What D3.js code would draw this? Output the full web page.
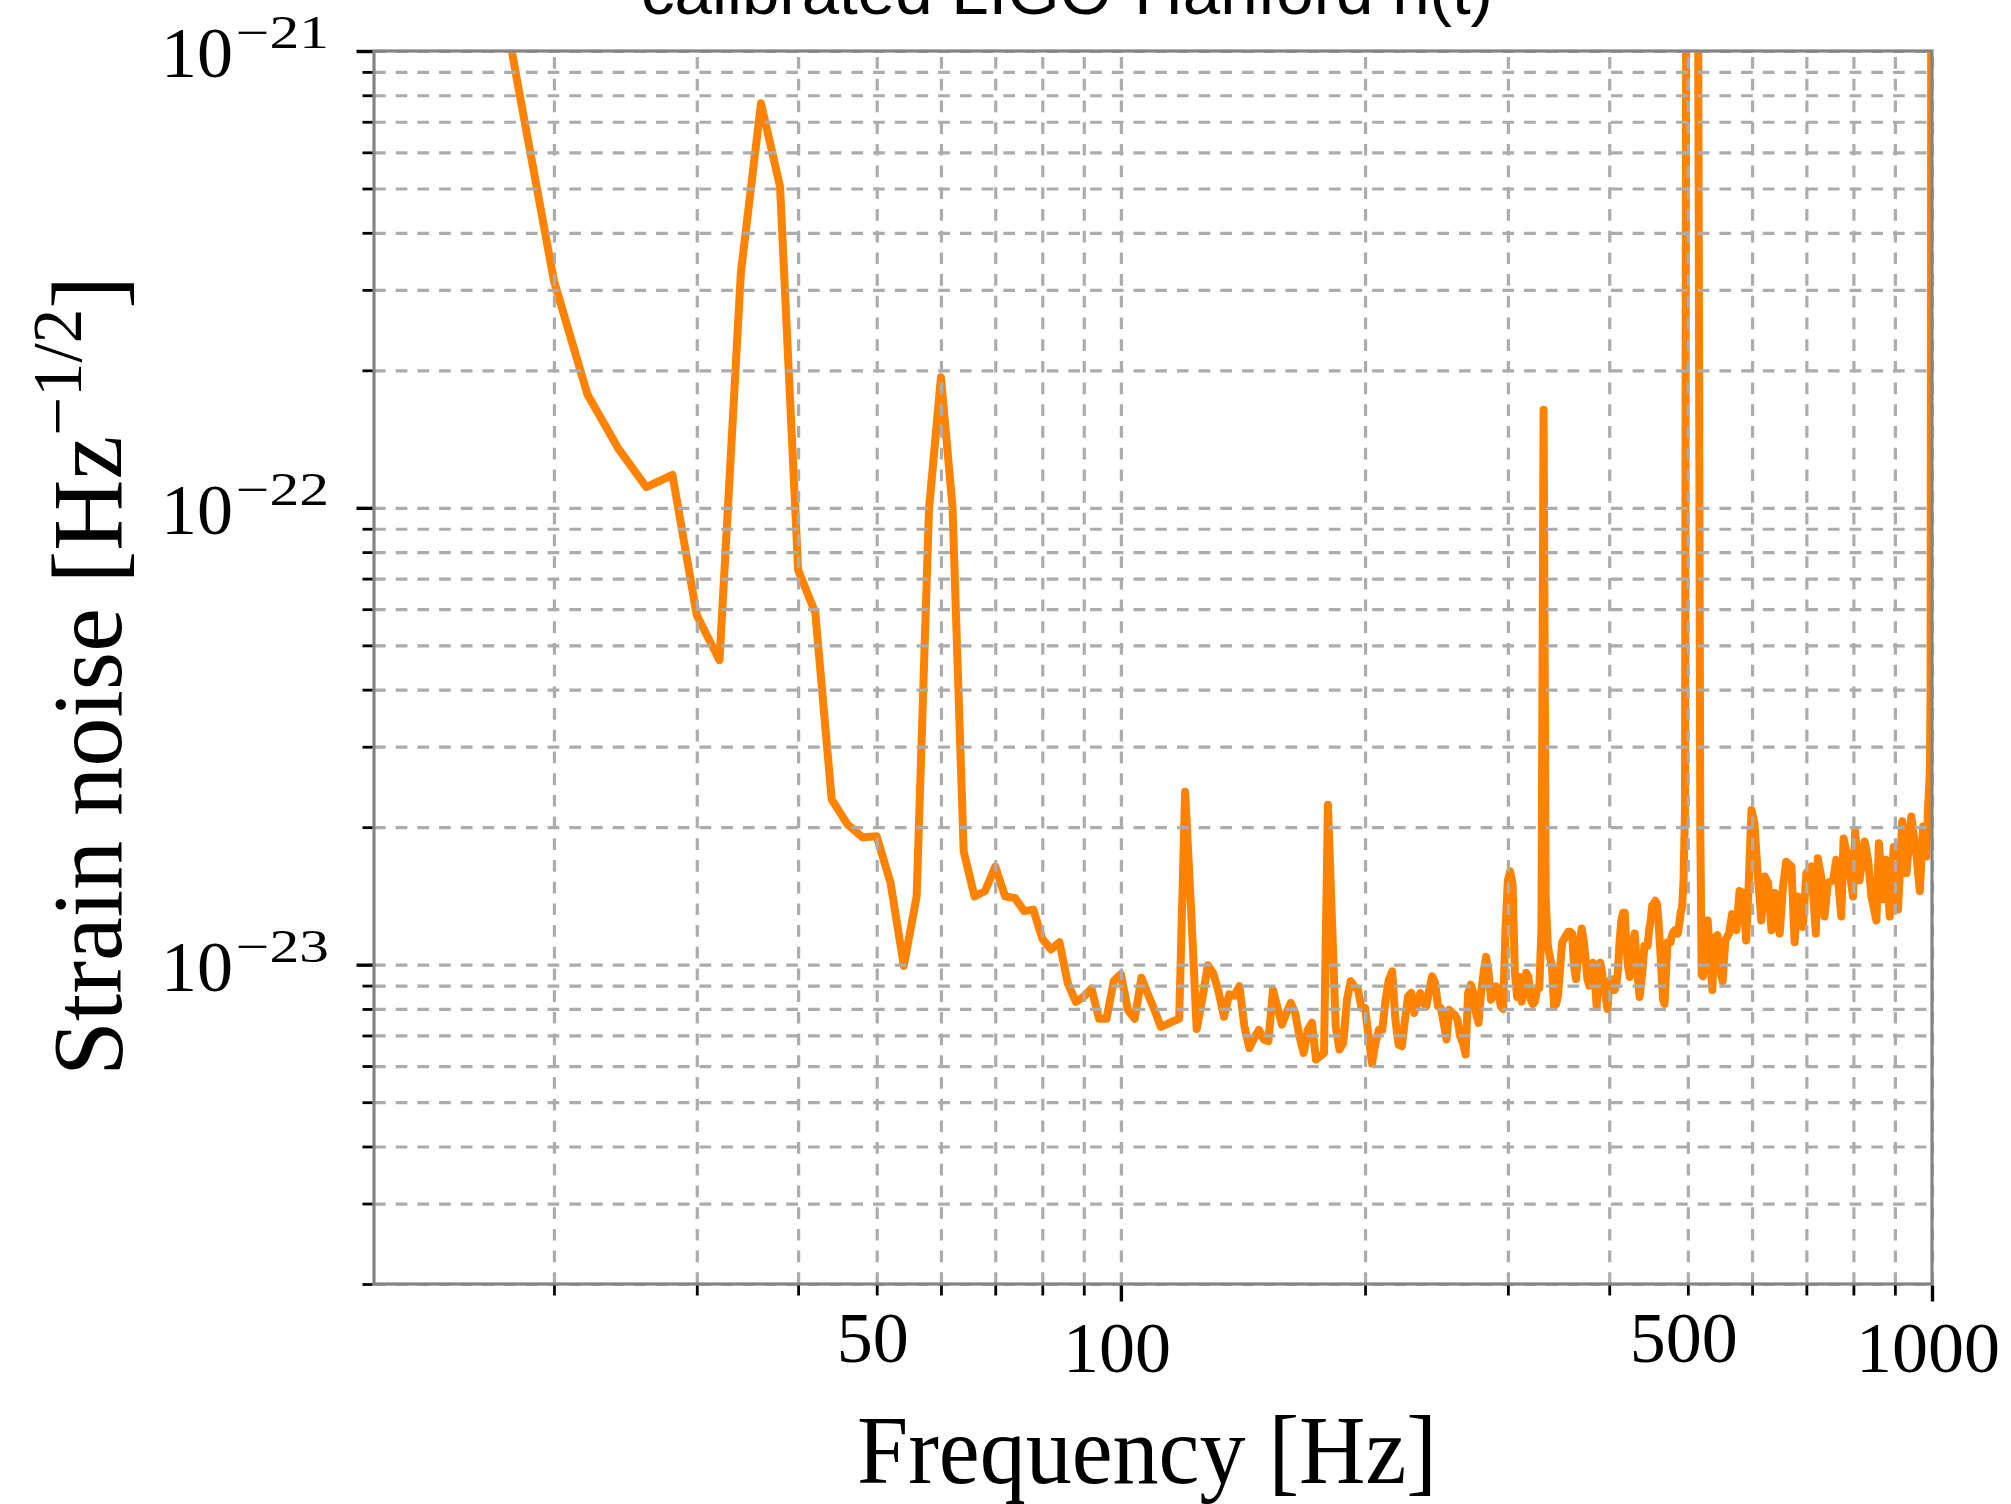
<!DOCTYPE html>
<html><head><meta charset="utf-8">
<script src="https://cdn.jsdelivr.net/npm/d3@7"></script>
<style>html,body{margin:0;padding:0;background:#fff;} svg{display:block;}</style>
</head><body>
<svg id="chart" width="2011" height="1504"></svg>
<script>
// ---- data ----
// frequency in Hz
const freqHz = [12,14,16,18,20,22,24,26,28,30,32,34,36,38,40,42,44,46,48,50,52,54,56,58,60,62,64,66,68,70,72,74,76,78,80,82,84,86,88,90,92,94,96,98,100,102,104,106,108,110,112,114,116,118,120,122,124,126,128,130,132,134,136,138,140,142,144,146,148,150,152,154,156,158,160,162,164,166,168,170,172,174,176,178,180,182,184,186,188,190,192,194,196,198,200,202,204,206,208,210,212,214,216,218,220,222,224,226,228,230,232,234,236,238,240,242,244,246,248,250,252,254,256,258,260,262,264,266,268,270,272,274,276,278,280,282,284,286,288,290,292,294,296,298,300,302,304,306,308,310,312,314,316,318,320,322,324,326,328,330,332,334,336,338,340,342,344,346,348,350,352,354,356,358,360,362,364,366,368,370,372,374,376,378,380,382,384,386,388,390,392,394,396,398,400,402,404,406,408,410,412,414,416,418,420,422,424,426,428,430,432,434,436,438,440,442,444,446,448,450,452,454,456,458,460,462,464,466,468,470,472,474,476,478,480,482,484,486,488,490,492,494,496,498,500,502,504,506,508,510,512,514,516,518,520,522,526,529,533,536,539,544,550,552,556,562,567,574,579,585,590,594,599,604,610,616,622,628,634,640,649,655,661,671,677,683,693,700,710,719,723,730,737,744,755,762,773,778,788,799,804,814,826,834,842,854,860,870,878,887,897,908,919,930,943,957,966,975,984,989,994,996,998,1000];
// strain noise amplitude in units of 1e-24 Hz^-1/2
const strainE24 = [20000,8000,2800,868,314,177,135,111,118,58.2,46.4,327,768,505,73.1,58.9,23.0,20.3,19.0,19.1,15.1,9.94,14.1,99.4,193,100.5,17.7,14.1,14.5,16.4,14.1,14.0,13.1,13.2,11.4,10.8,11.2,9.11,8.29,8.51,8.87,7.61,7.61,9.21,9.53,7.96,7.61,9.36,8.61,7.96,7.31,7.41,7.52,7.61,23.9,13.4,7.23,8.42,9.97,9.57,8.71,7.69,8.61,8.55,8.97,7.33,6.57,6.91,7.2,6.86,6.8,8.81,8.04,7.39,7.84,8.25,7.84,6.97,6.41,7.2,7.46,6.2,6.3,6.41,22.4,12.75,7.33,6.52,6.74,8.38,9.2,8.97,8.81,8.04,8.04,6.97,6.08,6.74,7.2,7.2,8.38,9.27,9.67,7.58,6.68,6.63,7.58,8.53,8.67,7.84,8.25,8.67,8.25,8.11,8.81,9.43,9.12,8.11,8.04,7.46,6.86,7.97,7.84,7.77,7.58,6.97,6.74,6.36,8.67,9.04,8.67,7.84,7.46,8.67,9.59,10.4,9.59,8.38,8.67,8.97,8.67,8.11,8.0,12,15.3,16.0,15.0,9.6,8.5,9.4,8.3,8.9,9.6,9.4,8.4,8.2,8.3,8.9,8.9,12,164,14,11.0,10.4,9.9,8.1,8.2,8.6,9.9,11.2,11.4,11.6,11.8,11.8,11.7,9.9,9.3,10.3,11.3,12.0,11.3,10.3,9.3,9.0,9.7,10.1,9.3,8.1,9.6,10.1,9.6,8.8,8.5,8.0,9.1,9.3,9.2,8.8,9.0,9.7,11.3,12.5,13.0,13.0,11.0,9.9,9.4,10.4,11.2,11.7,10.4,9.3,8.5,9.1,9.9,11.0,11.0,11.0,11.9,12.5,13.5,13.6,13.8,13.6,12.5,11.0,9.6,8.4,8.2,9.6,11.2,11.2,11.2,11.6,11.8,11.9,11.8,11.7,12.3,13.0,13.4,15.3,22,3000,8000,9000,9000,9000,9000,8000,6000,3000,300,20,9.5,9.43,12.3,12.5,10.25,8.8,11.45,11.6,9.43,9.2,11.3,11.7,12.9,11.9,14.5,14.35,11.3,14.6,21.8,20.4,15.6,12.5,15.6,15.1,11.9,14.35,11.7,14.8,16.8,16.4,11.2,14.1,12.1,15.86,16.4,11.7,17.1,15.6,12.75,15.1,15.3,16.96,12.75,18.9,16.96,14.1,19.56,15.3,18.6,16.96,14.1,12.5,18.45,13.9,16.96,12.75,18.1,13.2,20.6,15.86,21.1,17.25,14.5,20.07,17.25,22.2,26.3,40,2000,20000];

const xTickValues = [50, 100, 500, 1000];
const xTickLabels = ["50", "100", "500", "1000"];
const xMajorTicks = [100, 1000];
const yTickValues = [1e-21, 1e-22, 1e-23];
const yTickExponents = ["\u221221", "\u221222", "\u221223"];
const titleText = "calibrated LIGO-Hanford h(t)";
const xLabelText = "Frequency [Hz]";
const yLabelMain = "Strain noise [Hz";
const yLabelSup = "\u22121/2";
const yLabelEnd = "]";

// ---- layout ----
const plot = {left: 374, right: 1932, top: 51, bottom: 1284};
const x = d3.scaleLog().domain([12, 1000]).range([plot.left, plot.right]);
const y = d3.scaleLog().domain([2e-24, 1e-21]).range([plot.bottom, plot.top]);
const svg = d3.select("#chart");
const serif = '"Liberation Serif", "DejaVu Serif", serif';

svg.append("rect").attr("width", 2011).attr("height", 1504).attr("fill", "#fff");

svg.append("defs").append("clipPath").attr("id", "clip")
  .append("rect").attr("x", plot.left).attr("y", plot.top)
  .attr("width", plot.right - plot.left).attr("height", plot.bottom - plot.top);

// data line
const data = freqHz.map((f, i) => ({f: f, v: strainE24[i] * 1e-24}));
const line = d3.line().x(d => x(d.f)).y(d => y(d.v));
svg.append("path").datum(data)
  .attr("clip-path", "url(#clip)")
  .attr("d", line)
  .attr("fill", "none")
  .attr("stroke", "#ff8200")
  .attr("stroke-width", 8)
  .attr("stroke-linejoin", "round");

// grid values (decade ticks)
const xGrid = [];
[10, 100].forEach(d => { for (let k = 2; k <= 10; k++) xGrid.push(k * d); });
const yGrid = [];
[1e-24, 1e-23, 1e-22].forEach(d => { for (let k = 2; k <= 10; k++) yGrid.push(k * d); });

const gridStyle = g => {
  g.select(".domain").remove();
  g.selectAll(".tick line").attr("stroke", "#acacac").attr("stroke-width", 3.2)
    .attr("stroke-dasharray", "11.7,10");
};
svg.append("g").attr("transform", `translate(0,${plot.bottom})`)
  .call(d3.axisBottom(x).tickValues(xGrid).tickSize(-(plot.bottom - plot.top)).tickFormat(""))
  .call(gridStyle);
svg.append("g").attr("transform", `translate(${plot.left},0)`)
  .call(d3.axisLeft(y).tickValues(yGrid).tickSize(-(plot.right - plot.left)).tickFormat(""))
  .call(gridStyle);

// spines
svg.append("rect").attr("x", plot.left).attr("y", plot.top)
  .attr("width", plot.right - plot.left).attr("height", plot.bottom - plot.top)
  .attr("fill", "none").attr("stroke", "#848484").attr("stroke-width", 3.2);

// tick marks
const tickStyle = w => g => {
  g.select(".domain").remove();
  g.selectAll(".tick line").attr("stroke", "#000").attr("stroke-width", w);
};
const yMinor = yGrid.filter(v => !yTickValues.some(t => Math.abs(t - v) / t < 1e-6));
const xMinor = xGrid.filter(v => !xMajorTicks.includes(v));
svg.append("g").attr("transform", `translate(${plot.left - 1.5},0)`)
  .call(d3.axisLeft(y).tickValues(yTickValues).tickSize(16).tickFormat(""))
  .call(tickStyle(3.4));
svg.append("g").attr("transform", `translate(${plot.left - 1.5},0)`)
  .call(d3.axisLeft(y).tickValues(yMinor).tickSize(10).tickFormat(""))
  .call(tickStyle(2.8));
svg.append("g").attr("transform", `translate(0,${plot.bottom + 1.5})`)
  .call(d3.axisBottom(x).tickValues(xMajorTicks).tickSize(16).tickFormat(""))
  .call(tickStyle(3.4));
svg.append("g").attr("transform", `translate(0,${plot.bottom + 1.5})`)
  .call(d3.axisBottom(x).tickValues(xMinor).tickSize(10).tickFormat(""))
  .call(tickStyle(2.8));

// y tick labels 10^{-n}
yTickValues.forEach((v, i) => {
  const yy = y(v);
  svg.append("text").attr("x", 233).attr("y", yy + 26).attr("text-anchor", "end")
    .style("font-family", serif).style("font-size", "72px").attr("fill", "#000").text("10");
  svg.append("text").attr("x", 236).attr("y", yy - 3)
    .attr("textLength", 93).attr("lengthAdjust", "spacingAndGlyphs")
    .style("font-family", serif).style("font-size", "46px").attr("fill", "#000").text(yTickExponents[i]);
});

// x tick labels
xTickValues.forEach((v, i) => {
  const major = xMajorTicks.includes(v);
  svg.append("text").attr("x", x(v) - 4).attr("y", major ? 1372 : 1362)
    .attr("text-anchor", "middle")
    .style("font-family", serif).style("font-size", "72px").attr("fill", "#000").text(xTickLabels[i]);
});

// axis labels
svg.append("text").attr("x", 857).attr("y", 1483)
  .attr("textLength", 580).attr("lengthAdjust", "spacingAndGlyphs")
  .style("font-family", serif).style("font-size", "98px").attr("fill", "#000").text(xLabelText);

const yl = svg.append("text")
  .attr("transform", "translate(121,1076) rotate(-90)")
  .attr("textLength", 800).attr("lengthAdjust", "spacingAndGlyphs")
  .style("font-family", serif).style("font-size", "100px").attr("fill", "#000");
yl.append("tspan").text(yLabelMain);
yl.append("tspan").attr("dy", -40).style("font-size", "70px").text(yLabelSup);
yl.append("tspan").attr("dy", 40).style("font-size", "100px").text(yLabelEnd);

// title (partly cut off at the top, as in the reference)
svg.append("text").attr("x", 641).attr("y", 14)
  .attr("textLength", 852).attr("lengthAdjust", "spacingAndGlyphs")
  .style("font-family", '"Liberation Sans", Arial, sans-serif').style("font-size", "64px")
  .attr("fill", "#000").text(titleText);
</script>
</body></html>
